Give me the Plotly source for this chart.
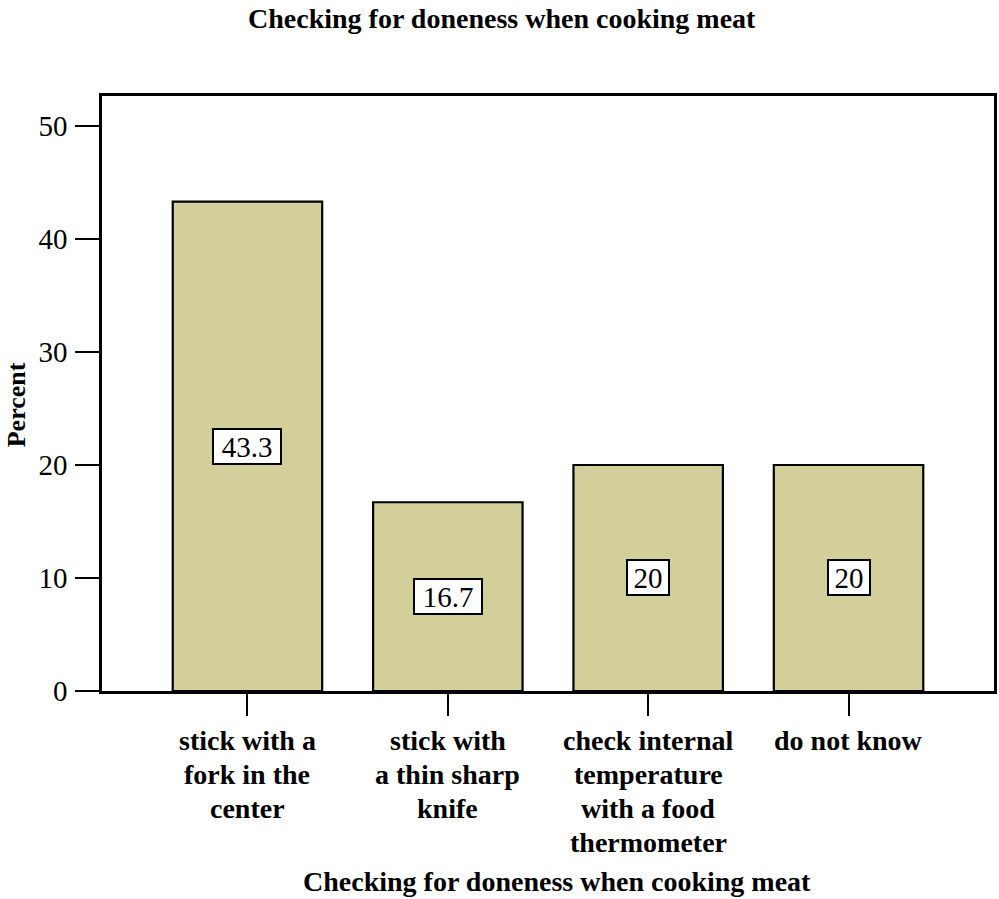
import plotly.graph_objects as go

# Survey responses: how meat doneness is checked (percent of respondents)
category_lines = [
    ["stick with a", "fork in the", "center"],
    ["stick with", "a thin sharp", "knife"],
    ["check internal", "temperature", "with a food", "thermometer"],
    ["do not know"],
]
percents = [43.3, 16.7, 20, 20]
value_labels = ["43.3", "16.7", "20", "20"]
y_ticks = [0, 10, 20, 30, 40, 50]
chart_title = "Checking for doneness when cooking meat"

SERIF = "Liberation Serif, Times New Roman, serif"
BAR_FILL = "#d3cf9b"

# Plot-area geometry in pixels (used to place paper-referenced text)
PLOT_LEFT, PLOT_RIGHT, PLOT_TOP, PLOT_BOTTOM = 102, 997, 96, 691
PLOT_W = PLOT_RIGHT - PLOT_LEFT
PLOT_H = PLOT_BOTTOM - PLOT_TOP


def px_x(p):
    return (p - PLOT_LEFT) / PLOT_W


def px_y(p):
    return (PLOT_BOTTOM - p) / PLOT_H


fig = go.Figure()
fig.add_trace(go.Bar(
    x=list(range(len(category_lines))),
    y=percents,
    marker=dict(color=BAR_FILL, line=dict(color="black", width=2.2)),
    width=0.746,
    hoverinfo="skip",
))

# Value boxes at the middle of each bar
for i, (v, lab) in enumerate(zip(percents, value_labels)):
    fig.add_annotation(
        x=i, y=v / 2, xref="x", yref="y", text=lab, showarrow=False,
        font=dict(family=SERIF, size=29, color="black"),
        bgcolor="white", bordercolor="black", borderwidth=2, borderpad=0,
        width=(66 if len(lab) > 2 else 40), height=33,
        xanchor="center", yanchor="middle", align="center", valign="middle",
    )

# Category labels under the ticks, one line at a time
LINE_Y0, LINE_STEP = 740, 34
for i, lines in enumerate(category_lines):
    for j, line in enumerate(lines):
        fig.add_annotation(
            x=i, y=px_y(LINE_Y0 + j * LINE_STEP), xref="x", yref="paper",
            text=f"<b>{line}</b>", showarrow=False,
            font=dict(family=SERIF, size=28, color="black"),
            xanchor="center", yanchor="middle",
        )

# Titles
fig.add_annotation(
    x=px_x(503.5), y=px_y(18), xref="paper", yref="paper", text=f"<b>{chart_title}</b>",
    showarrow=False, font=dict(family=SERIF, size=28, color="black"),
    xanchor="center", yanchor="middle",
)
fig.add_annotation(
    x=px_x(559), y=px_y(899), xref="paper", yref="paper", text=f"<b>{chart_title}</b>",
    showarrow=False, font=dict(family=SERIF, size=28, color="black"),
    xanchor="center", yanchor="bottom",
)
fig.add_annotation(
    x=px_x(17), y=px_y(405), xref="paper", yref="paper",
    text="<b>Percent</b>", textangle=-90,
    showarrow=False, font=dict(family=SERIF, size=26, color="black"),
    xanchor="center", yanchor="middle",
)

fig.update_layout(
    width=999, height=899,
    margin=dict(l=PLOT_LEFT, r=999 - PLOT_RIGHT, t=PLOT_TOP, b=899 - PLOT_BOTTOM),
    paper_bgcolor="white", plot_bgcolor="white",
    showlegend=False,
    xaxis=dict(
        range=[-0.726, 3.726],
        tickmode="array", tickvals=list(range(len(category_lines))),
        showticklabels=False,
        ticks="outside", ticklen=22, tickwidth=2, tickcolor="black",
        showline=True, linecolor="black", linewidth=2.5, mirror=True,
        showgrid=False, zeroline=False, fixedrange=True,
    ),
    yaxis=dict(
        range=[0, 52.65],
        tickmode="array", tickvals=y_ticks, ticktext=[str(t) for t in y_ticks],
        ticks="outside", ticklen=24, tickwidth=2, tickcolor="black",
        tickfont=dict(family=SERIF, size=29, color="black"),
        ticklabelstandoff=2,
        showline=True, linecolor="black", linewidth=2.5, mirror=True,
        showgrid=False, zeroline=False, fixedrange=True,
    ),
)

fig.write_html("out.html")
